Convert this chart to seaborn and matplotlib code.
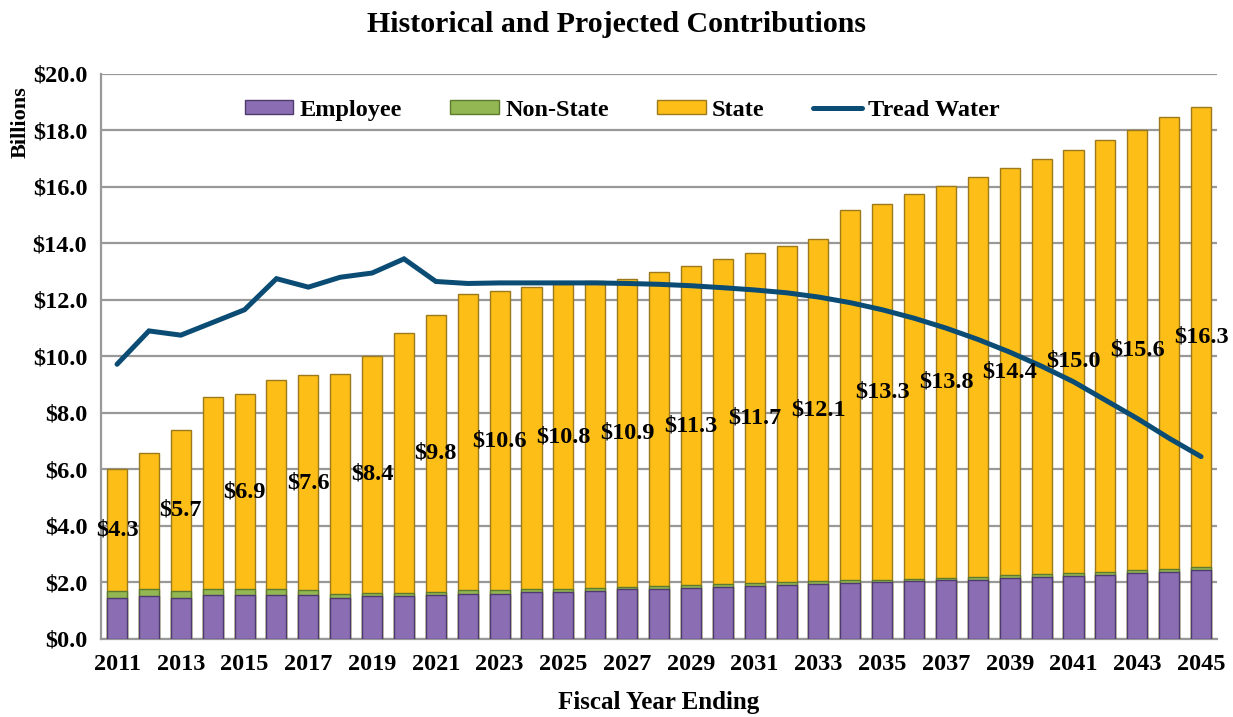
import numpy as np
import pandas as pd
import matplotlib
matplotlib.use('Agg')
import matplotlib.pyplot as plt
from matplotlib.patches import Patch
from matplotlib.lines import Line2D
from matplotlib.ticker import FixedLocator
import seaborn as sns

# data (billions)
years = list(range(2011, 2046))
employee = [1.45, 1.50, 1.45, 1.55, 1.55, 1.55, 1.55, 1.45, 1.50, 1.50,
            1.55, 1.60, 1.60, 1.65, 1.65, 1.70, 1.75, 1.78, 1.80, 1.83,
            1.87, 1.90, 1.95, 1.98, 2.00, 2.03, 2.07, 2.10, 2.15, 2.18,
            2.22, 2.27, 2.32, 2.37, 2.43]
non_state = [0.25, 0.27, 0.25, 0.22, 0.20, 0.20, 0.18, 0.12, 0.12, 0.12,
             0.12, 0.12, 0.12, 0.10, 0.10, 0.10, 0.10, 0.10, 0.10, 0.10,
             0.10, 0.10, 0.10, 0.10, 0.10, 0.10, 0.10, 0.10, 0.10, 0.10,
             0.10, 0.10, 0.10, 0.10, 0.10]
state = [4.3, 4.8, 5.7, 6.8, 6.9, 7.4, 7.6, 7.8, 8.4, 9.2,
         9.8, 10.5, 10.6, 10.7, 10.8, 10.85, 10.9, 11.1, 11.3, 11.5,
         11.7, 11.9, 12.1, 13.1, 13.3, 13.6, 13.85, 14.15, 14.4, 14.7,
         15.0, 15.3, 15.6, 16.0, 16.3]
tread_water = [9.72, 10.9, 10.75, 11.2, 11.65, 12.75, 12.45, 12.8, 12.95, 13.45,
               12.65, 12.58, 12.6, 12.6, 12.6, 12.6, 12.58, 12.55, 12.5, 12.43,
               12.35, 12.25, 12.1, 11.9, 11.65, 11.35, 11.0, 10.6, 10.15, 9.65,
               9.1, 8.45, 7.8, 7.1, 6.45]

C_EMP = '#8A6DB3'
C_NS = '#93B752'
C_STATE = '#FDBE17'
C_LINE = '#0B4C74'

sns.set_theme(style='white')
plt.rcParams['font.family'] = ['Liberation Serif', 'DejaVu Serif']
plt.rcParams['font.weight'] = 'bold'
plt.rcParams['text.color'] = 'black'
plt.rcParams['axes.labelcolor'] = 'black'
plt.rcParams['xtick.color'] = 'black'
plt.rcParams['ytick.color'] = 'black'

df = pd.DataFrame({'year': [str(y) for y in years],
                   'employee': employee, 'non_state': non_state, 'state': state,
                   'tread': tread_water})
df['lower'] = df['employee'] + df['non_state']
df['total'] = df['lower'] + df['state']

fig = plt.figure(figsize=(12.33, 7.17), dpi=100)
ax = fig.add_axes([0.082, 0.109, 0.905, 0.788])

# stacked bars drawn as overlapping cumulative layers
sns.barplot(data=df, x='year', y='total', color=C_STATE, saturation=1, width=0.63,
            edgecolor='#9C7A1C', linewidth=1.0, ax=ax, zorder=3)
sns.barplot(data=df, x='year', y='lower', color=C_NS, saturation=1, width=0.63,
            edgecolor='#5E7A2E', linewidth=1.0, ax=ax, zorder=3)
sns.barplot(data=df, x='year', y='employee', color=C_EMP, saturation=1, width=0.63,
            edgecolor='#4E3A6E', linewidth=1.0, ax=ax, zorder=3)

x_pos = np.arange(len(years))
sns.lineplot(x=x_pos, y=df['tread'].values, color=C_LINE, linewidth=3.6, ax=ax,
             zorder=5, solid_joinstyle='miter', solid_capstyle='round')

# state data labels, every other year, centred in the State segment
for i in range(0, len(years), 2):
    yc = df['lower'][i] + df['state'][i] / 2
    ax.text(x_pos[i], yc, f'${state[i]:.1f}', ha='center', va='center',
            fontsize=17.5, fontweight='bold', color='black', zorder=6)

ax.set_xlim(-0.5, len(years) - 0.5)
ax.set_ylim(0, 20)
ax.set_yticks(np.arange(0, 20.1, 2))
ax.set_yticklabels([f'${v:.1f}' for v in np.arange(0, 20.1, 2)], fontsize=17.5, fontweight='bold')
ax.yaxis.grid(True, color='#999999', linewidth=1.6, zorder=0)
ax.set_axisbelow(True)

ax.xaxis.set_major_locator(FixedLocator(x_pos[::2]))
ax.set_xticklabels([str(y) for y in years[::2]], fontsize=17.5, fontweight='bold')
ax.xaxis.set_minor_locator(FixedLocator(np.arange(-0.5, len(years), 1)))
ax.tick_params(axis='x', which='major', length=0, pad=11)
ax.tick_params(axis='x', which='minor', length=7, width=1.6, color='#999999', direction='out')
ax.tick_params(axis='y', which='major', length=7, width=1.6, color='#999999', direction='out', pad=3)

for s in ['top', 'right']:
    ax.spines[s].set_visible(False)
for s in ['left', 'bottom']:
    ax.spines[s].set_color('#999999')
    ax.spines[s].set_linewidth(1.6)

ax.set_xlabel('')
ax.set_ylabel('')
fig.text(0.534, 0.02, 'Fiscal Year Ending', ha='center', va='center',
         fontsize=18, fontweight='bold')
fig.text(0.017, 0.83, 'Billions', rotation=90, ha='center', va='center',
         fontsize=16, fontweight='bold')
fig.suptitle('Historical and Projected Contributions', fontsize=21.5, fontweight='bold', y=0.985)

handles = [Patch(facecolor=C_EMP, edgecolor='#4E3A6E'),
           Patch(facecolor=C_NS, edgecolor='#5E7A2E'),
           Patch(facecolor=C_STATE, edgecolor='#9C7A1C'),
           Line2D([0], [0], color=C_LINE, linewidth=3.6, solid_capstyle='round')]
leg = ax.legend(handles, ['Employee', 'Non-State', 'State', 'Tread Water'],
                loc='center', bbox_to_anchor=(0.467, 0.936), ncol=4, frameon=False,
                fontsize=17.5, handlelength=2.0, handleheight=0.5, columnspacing=2.0,
                handletextpad=0.25)
for t in leg.get_texts():
    t.set_fontweight('bold')

fig.savefig('out.png', dpi=100)
